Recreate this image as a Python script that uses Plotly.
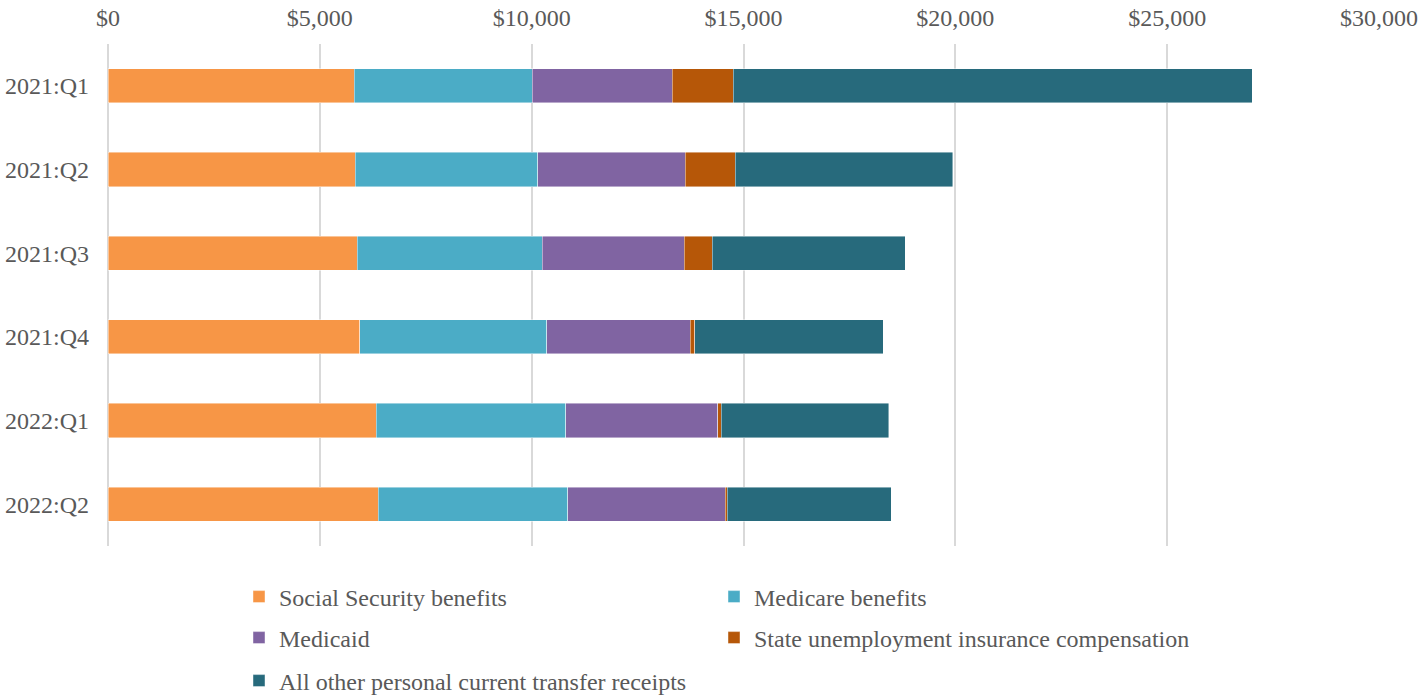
import plotly.graph_objects as go

quarters = ["2021:Q1", "2021:Q2", "2021:Q3", "2021:Q4", "2022:Q1", "2022:Q2"]

social_security = [5807, 5838, 5885, 5942, 6327, 6374]
medicare = [4210, 4306, 4368, 4414, 4478, 4478]
medicaid = [3297, 3484, 3352, 3390, 3588, 3721]
state_ui = [1448, 1181, 654, 104, 78, 47]
all_other = [12245, 5127, 4556, 4446, 3954, 3864]

series = [
    ("Social Security benefits", social_security, "#F79646", "legend"),
    ("Medicare benefits", medicare, "#4BACC6", "legend"),
    ("Medicaid", medicaid, "#8064A2", "legend2"),
    ("State unemployment insurance compensation", state_ui, "#B65708", "legend2"),
    ("All other personal current transfer receipts", all_other, "#276A7C", "legend3"),
]

FONT = "Liberation Serif, Times New Roman, serif"
TEXT = "#595959"
FS = 24

fig = go.Figure()
for name, vals, color, lg in series:
    fig.add_trace(go.Bar(
        y=quarters, x=vals, name=name, orientation="h",
        marker=dict(color=color, line=dict(color="rgba(255,255,255,0.55)", width=0.8)),
        width=0.41, legend=lg,
    ))

legend_common = dict(
    orientation="h", xanchor="left", yanchor="middle",
    xref="container", yref="container", x=239 / 1418,
    font=dict(family=FONT, size=FS, color=TEXT),
    entrywidth=430, entrywidthmode="pixels", bgcolor="rgba(0,0,0,0)",
    traceorder="normal",
)

fig.update_layout(
    width=1418, height=696,
    margin=dict(l=108, r=39, t=44, b=150, autoexpand=False),
    barmode="stack",
    paper_bgcolor="white", plot_bgcolor="white",
    font=dict(family=FONT, size=FS, color=TEXT),
    legend=dict(legend_common, y=1 - 597 / 696),
    legend2=dict(legend_common, y=1 - 638 / 696),
    legend3=dict(legend_common, y=1 - 681 / 696),
    xaxis=dict(
        side="top", range=[0, 30000], dtick=5000, tickprefix="$", tickformat=",d",
        showgrid=True, gridcolor="#D9D9D9", gridwidth=2,
        zeroline=True, zerolinecolor="#D9D9D9", zerolinewidth=2,
        showline=False, ticks="", ticklabelstandoff=12,
        tickfont=dict(family=FONT, size=FS, color=TEXT),
        fixedrange=True,
    ),
    yaxis=dict(
        autorange="reversed", showgrid=False, showline=False, ticks="",
        ticklabelstandoff=18,
        tickfont=dict(family=FONT, size=FS, color=TEXT),
        fixedrange=True,
    ),
    showlegend=True,
)

fig.write_html("out.html")
